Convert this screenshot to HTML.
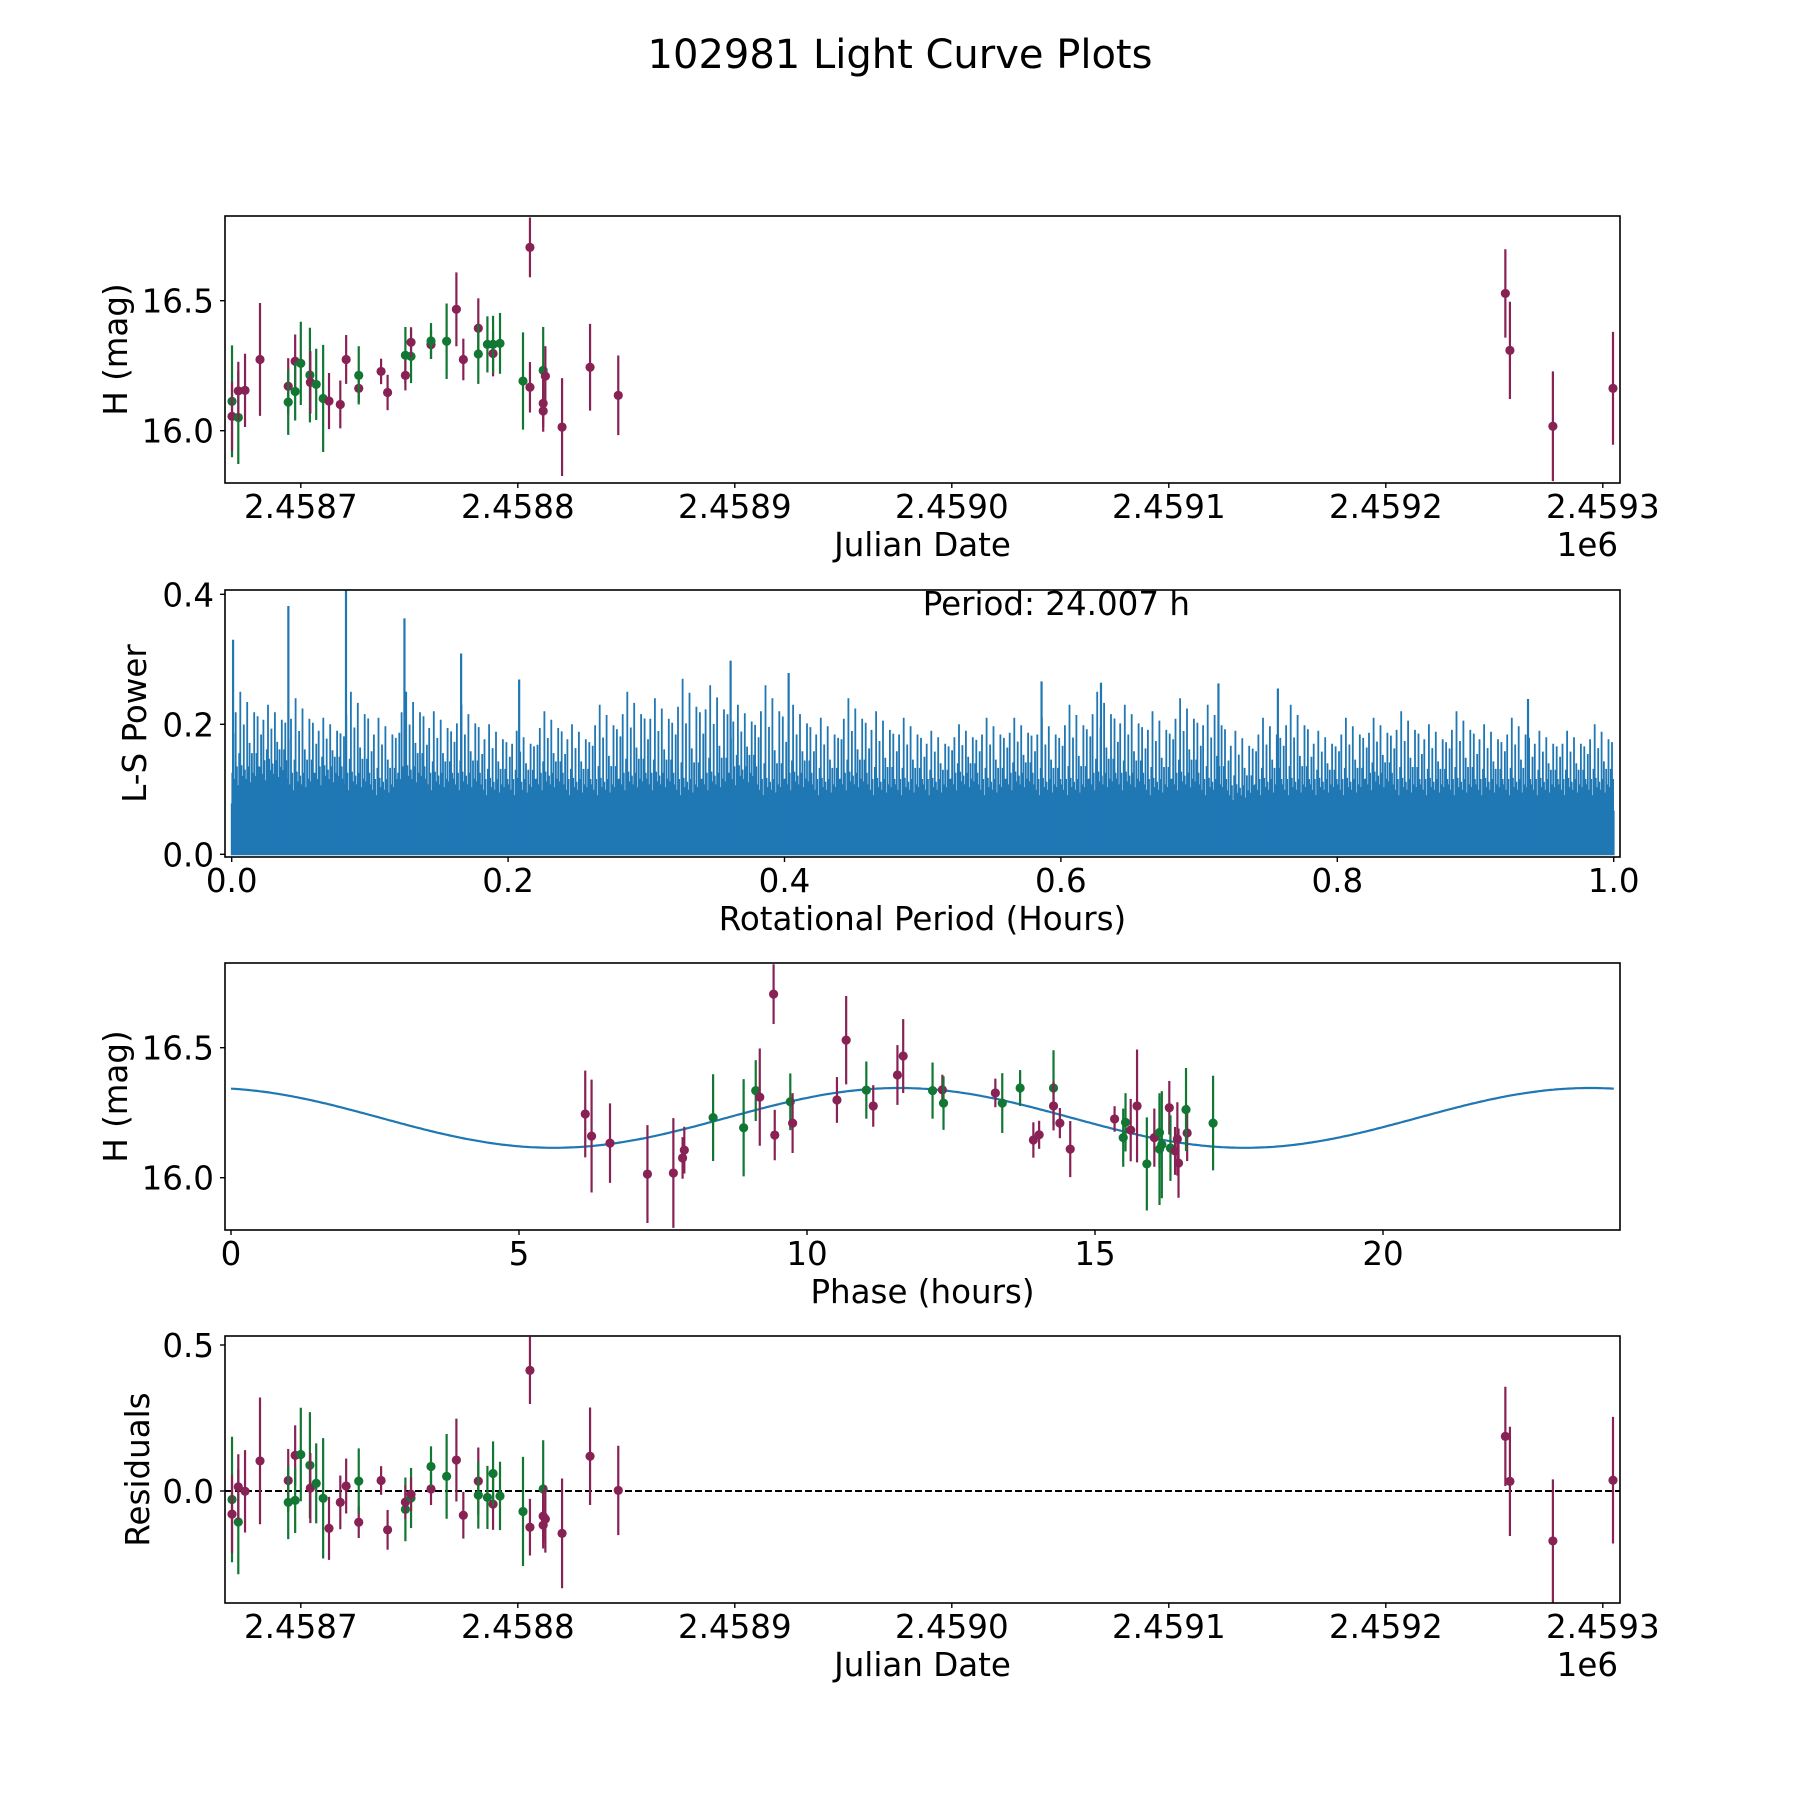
<!DOCTYPE html>
<html><head><meta charset="utf-8"><title>102981 Light Curve Plots</title>
<style>
html,body{margin:0;padding:0;background:#fff}
svg{display:block}
text{font-family:"DejaVu Sans","Liberation Sans",sans-serif;fill:#000}
</style></head>
<body>
<svg id="fig" width="1800" height="1800" viewBox="0 0 1800 1800" xmlns="http://www.w3.org/2000/svg">
<rect x="0" y="0" width="1800" height="1800" fill="#fff"/>
<text x="900" y="68" font-size="40" text-anchor="middle">102981 Light Curve Plots</text>
</svg>
<script>
// ---------- data: light curve (JD offset from 2458700, days) ----------
const jdOff = [-31.7,-31.7,-28.8,-28.8,-25.7,-18.8,-5.8,-5.8,-2.6,-2.6,0,4.2,4.4,7.1,10.3,13.0,18.2,20.9,26.7,26.7,37.0,40.0,48.2,48.2,50.8,50.8,60.0,60.0,67.2,71.7,74.9,81.8,81.8,86.0,88.6,88.6,91.8,102.4,105.6,105.6,111.7,111.7,111.7,112.7,120.4,133.3,146.3,555.1,557.2,577.0,604.7];
const mags = [16.113,16.055,16.051,16.153,16.155,16.274,16.171,16.110,16.267,16.151,16.259,16.214,16.186,16.178,16.124,16.114,16.101,16.274,16.163,16.213,16.228,16.147,16.290,16.213,16.286,16.340,16.331,16.345,16.344,16.467,16.274,16.394,16.295,16.332,16.297,16.332,16.336,16.191,16.705,16.167,16.232,16.105,16.076,16.210,16.014,16.244,16.136,16.528,16.309,16.017,16.163];
const magErr = [0.215,0.133,0.179,0.112,0.141,0.217,0.108,0.126,0.103,0.112,0.160,0.182,0.12,0.137,0.206,0.108,0.092,0.094,0.054,0.112,0.049,0.068,0.109,0.058,0.103,0.058,0.055,0.069,0.145,0.142,0.08,0.115,0.115,0.108,0.088,0.110,0.117,0.187,0.115,0.097,0.167,0.09,0.08,0.115,0.188,0.167,0.153,0.170,0.187,0.211,0.217];
const filt = ['g','m','g','m','m','m','m','g','m','g','g','g','m','g','g','m','m','m','m','g','m','m','g','m','g','m','m','g','g','m','m','m','g','g','m','g','g','g','m','m','g','m','m','m','m','m','m','m','m','m','m'];
const resid = [-0.029,-0.079,-0.106,0.014,-0.001,0.103,0.036,-0.039,0.122,-0.032,0.125,0.088,0.010,0.026,-0.025,-0.128,-0.039,0.017,-0.107,0.034,0.036,-0.133,-0.063,-0.038,-0.024,-0.011,0.007,0.084,0.050,0.106,-0.083,0.034,-0.014,-0.022,-0.045,0.060,-0.017,-0.070,0.413,-0.124,0.007,-0.086,-0.117,-0.096,-0.145,0.119,0.002,0.187,0.033,-0.171,0.037];

// ---------- data: phased curve ----------
const phase = [6.15,6.26,6.58,7.23,7.68,7.84,7.87,8.37,8.90,9.11,9.18,9.42,9.44,9.71,9.75,10.52,10.68,11.03,11.15,11.57,11.67,12.18,12.35,12.37,13.27,13.39,13.70,14.28,14.28,14.39,13.93,14.03,14.57,15.34,15.49,15.53,15.62,15.73,15.90,16.03,16.12,16.12,16.16,16.29,16.31,16.39,16.43,16.45,16.60,16.58,17.05];
const phaseMag = [16.245,16.160,16.133,16.014,16.018,16.076,16.106,16.231,16.192,16.335,16.310,16.706,16.164,16.292,16.210,16.299,16.529,16.337,16.276,16.395,16.468,16.335,16.338,16.287,16.326,16.287,16.345,16.345,16.276,16.210,16.145,16.165,16.110,16.226,16.154,16.213,16.183,16.276,16.053,16.154,16.174,16.110,16.127,16.269,16.114,16.103,16.149,16.056,16.172,16.262,16.210];
const phaseErr = [0.167,0.217,0.153,0.188,0.211,0.08,0.09,0.167,0.187,0.117,0.187,0.115,0.097,0.109,0.115,0.088,0.170,0.11,0.08,0.115,0.142,0.108,0.058,0.103,0.055,0.115,0.069,0.145,0.094,0.058,0.068,0.054,0.108,0.049,0.112,0.112,0.12,0.217,0.179,0.112,0.137,0.215,0.206,0.103,0.126,0.092,0.141,0.133,0.108,0.16,0.182];
const phaseFilt = ['m','m','m','m','m','m','m','g','g','g','m','m','m','g','m','m','m','g','m','m','m','g','m','g','m','g','g','g','m','m','m','m','m','m','g','g','m','m','g','m','g','g','g','m','g','m','m','m','m','g','g'];
// model: mean, amplitude, period (h), phase of maximum (h)
const modelMean = [16.23];
const modelAmp = [0.115];
const modelPeriod = [12.0];
const modelPeak = [11.6];

// ---------- data: periodogram ----------
const lsBinMax = [0.25,0.23,0.24,0.21,0.25,0.21,0.25,0.22,0.23,0.20,0.19,0.22,0.20,0.23,0.25,0.24,0.27,0.26,0.23,0.26,0.23,0.21,0.24,0.22,0.21,0.19,0.20,0.21,0.21,0.21,0.23,0.25,0.23,0.22,0.24,0.23,0.19,0.21,0.23,0.19,0.21,0.21,0.22,0.20,0.22,0.20,0.21,0.19,0.19,0.20];
const lsBinFill = [0.14,0.15,0.13,0.14,0.13,0.12,0.14,0.13,0.13,0.12,0.12,0.13,0.12,0.12,0.13,0.13,0.12,0.13,0.14,0.12,0.13,0.12,0.13,0.12,0.12,0.12,0.13,0.12,0.13,0.12,0.12,0.13,0.13,0.12,0.13,0.12,0.11,0.12,0.12,0.12,0.12,0.13,0.12,0.12,0.12,0.12,0.12,0.12,0.12,0.12];
const lsPeakPeriod = [0.001,0.041,0.0827,0.125,0.166,0.208,0.361,0.403,0.586,0.629,0.714,0.757,0.938];
const lsPeakPower = [0.33,0.382,0.42,0.363,0.309,0.269,0.298,0.279,0.266,0.264,0.263,0.255,0.239];

// tick labels
const jdTicks = [0,100,200,300,400,500,600];
const jdTickLabels = ['2.4587','2.4588','2.4589','2.4590','2.4591','2.4592','2.4593'];
const magTicks = [16.0,16.5];
const magTickLabels = ['16.0','16.5'];
const perTicks = [0,0.2,0.4,0.6,0.8,1.0];
const perTickLabels = ['0.0','0.2','0.4','0.6','0.8','1.0'];
const powTicks = [0,0.2,0.4];
const powTickLabels = ['0.0','0.2','0.4'];
const phTicks = [0,5,10,15,20];
const phTickLabels = ['0','5','10','15','20'];
const resTicks = [0,0.5];
const resTickLabels = ['0.0','0.5'];

// ---------- layout ----------
const NS = 'http://www.w3.org/2000/svg';
const svg = document.getElementById('fig');
const L = 225, R = 1620, H = 267;
const tops = [216, 590, 963, 1336];
const COL = {m:'#882255', g:'#117733'};
const FS = 32.5;

function lin(d0, d1, r0, r1){ return v => r0 + (v - d0) * (r1 - r0) / (d1 - d0); }
function el(tag, attrs, parent){
  const e = document.createElementNS(NS, tag);
  for (const k in attrs) e.setAttribute(k, attrs[k]);
  (parent || svg).appendChild(e);
  return e;
}

function axesFrame(i, name){
  const g = el('g', {});
  
  
  const cp = el('clipPath', {id:'clip'+i}, g);
  el('rect', {x:L, y:tops[i], width:R-L, height:H}, cp);
  const plot = el('g', {'clip-path':'url(#clip'+i+')'}, g);
  
  
  return {g, plot};
}
function frame(g, i){
  const f = el('rect', {x:L, y:tops[i], width:R-L, height:H, fill:'none', stroke:'#000', 'stroke-width':1.6}, g);
  
  
}
function xTicks(g, i, ticks, labels, sx){
  const b = tops[i] + H;
  ticks.forEach((t, k) => {
    const x = sx(t);
    const tk = el('line', {x1:x, x2:x, y1:b, y2:b+5, stroke:'#000', 'stroke-width':1.4}, g);
    
    
    const tx = el('text', {x:x, y:b+35, 'font-size':FS, 'text-anchor':'middle'}, g);
    tx.textContent = labels[k];
    
    
  });
}
function yTicks(g, i, ticks, labels, sy){
  ticks.forEach((t, k) => {
    const y = sy(t);
    const tk = el('line', {x1:L-5, x2:L, y1:y, y2:y, stroke:'#000', 'stroke-width':1.4}, g);
    
    
    const tx = el('text', {x:L-11, y:y+12, 'font-size':FS, 'text-anchor':'end'}, g);
    tx.textContent = labels[k];
    
    
  });
}
function xLabel(g, i, txt){
  const t = el('text', {x:(L+R)/2, y:tops[i]+H+73, 'font-size':FS, 'text-anchor':'middle'}, g);
  t.textContent = txt;
  
  
}
function yLabel(g, i, txt, bx){
  const yc = tops[i] + H/2;
  const t = el('text', {x:bx, y:yc, 'font-size':FS, 'text-anchor':'middle', transform:'rotate(-90 '+bx+' '+yc+')'}, g);
  t.textContent = txt;
  
  
}
function errPoint(plot, x, y, ylo, yhi, c){
  const ln = el('line', {x1:x, x2:x, y1:ylo, y2:yhi, stroke:c, 'stroke-width':2.2}, plot);
  
  
  const dot = el('circle', {cx:x, cy:y, r:4.6, fill:c}, plot);
  
  
}

// ---------- panel 1: light curve ----------
(function(){
  const i = 0;
  const {g, plot} = axesFrame(i, 'light-curve-panel');
  const sx = lin(0, 100, 300.8, 517.8);
  const sy = lin(16.0, 16.5, tops[i]+214.7, tops[i]+84.7);
  jdOff.forEach((d, k) => {
    errPoint(plot, sx(d), sy(mags[k]), sy(mags[k]-magErr[k]), sy(mags[k]+magErr[k]), COL[filt[k]]);
  });
  frame(g, i);
  xTicks(g, i, jdTicks, jdTickLabels, sx);
  yTicks(g, i, magTicks, magTickLabels, sy);
  xLabel(g, i, 'Julian Date');
  yLabel(g, i, 'H (mag)', 127);
  const off = el('text', {x:1618, y:tops[i]+H+73, 'font-size':FS, 'text-anchor':'end'}, g);
  off.textContent = '1e6';
  
  
})();

// ---------- panel 2: periodogram ----------
(function(){
  const i = 1;
  const {g, plot} = axesFrame(i, 'periodogram-panel');
  const sx = lin(0, 1, 231.7, 1613.7);
  const sy = lin(0, 0.4, tops[i]+264.3, tops[i]+4.3);
  const pattern = [.5,.8,.4,.9,.6,.3,.7,1,.62,.45,.84,.55,.4,.95,.6,.75,.35,.7,.5,.9,.45,.7,.88,.6];
  const nb = lsBinMax.length;
  let d = '';
  for (let b = 0; b < nb; b++){
    const base = lsBinFill[b] * 0.55;
    const x0 = sx(b/nb), x1 = sx((b+1)/nb);
    d += 'M'+x0.toFixed(1)+' '+sy(0).toFixed(1)+'V'+sy(base).toFixed(1)+'H'+x1.toFixed(1)+'V'+sy(0).toFixed(1)+'Z';
    for (let k = 0; k < pattern.length; k++){
      const x = x0 + (k + 0.5) * (x1 - x0) / pattern.length;
      const p = pattern[k];
      const h = p < 0.65 ? base + (lsBinFill[b] - base) * (p/0.65) : lsBinFill[b] + (lsBinMax[b] - lsBinFill[b]) * ((p-0.65)/0.35);
      d += 'M'+x.toFixed(1)+' '+sy(0).toFixed(1)+'V'+sy(h).toFixed(1);
    }
  }
  const spikes = el('path', {d:d, fill:'#1f77b4', stroke:'#1f77b4', 'stroke-width':1.8}, plot);
  
  
  lsPeakPeriod.forEach((p, k) => {
    const pk = el('line', {x1:sx(p), x2:sx(p), y1:sy(0), y2:sy(lsPeakPower[k]), stroke:'#1f77b4', 'stroke-width':2.2}, plot);
    
    
  });
  frame(g, i);
  xTicks(g, i, perTicks, perTickLabels, sx);
  yTicks(g, i, powTicks, powTickLabels, sy);
  xLabel(g, i, 'Rotational Period (Hours)');
  yLabel(g, i, 'L-S Power', 146);
  const pt = el('text', {x:sx(0.5), y:615, 'font-size':FS, 'text-anchor':'start'}, g);
  pt.textContent = 'Period: 24.007 h';
  
  
})();

// ---------- panel 3: phased curve ----------
(function(){
  const i = 2;
  const {g, plot} = axesFrame(i, 'phase-panel');
  const sx = lin(0, 5, 231, 519);
  const sy = lin(16.0, 16.5, tops[i]+214.7, tops[i]+84.7);
  let d = '';
  for (let k = 0; k <= 480; k++){
    const t = 24.007 * k / 480;
    const v = modelMean[0] + modelAmp[0] * Math.cos(2*Math.PI*(t - modelPeak[0]) / modelPeriod[0]);
    d += (k ? 'L' : 'M') + sx(t).toFixed(1) + ' ' + sy(v).toFixed(1);
  }
  const curve = el('path', {d:d, fill:'none', stroke:'#1f77b4', 'stroke-width':2.2}, plot);
  
  
  phase.forEach((p, k) => {
    errPoint(plot, sx(p), sy(phaseMag[k]), sy(phaseMag[k]-phaseErr[k]), sy(phaseMag[k]+phaseErr[k]), COL[phaseFilt[k]]);
  });
  frame(g, i);
  xTicks(g, i, phTicks, phTickLabels, sx);
  yTicks(g, i, magTicks, magTickLabels, sy);
  xLabel(g, i, 'Phase (hours)');
  yLabel(g, i, 'H (mag)', 127);
})();

// ---------- panel 4: residuals ----------
(function(){
  const i = 3;
  const {g, plot} = axesFrame(i, 'residuals-panel');
  const sx = lin(0, 100, 300.8, 517.8);
  const sy = lin(0, 0.5, tops[i]+155, tops[i]+9);
  const zl = el('line', {x1:L, x2:R, y1:sy(0), y2:sy(0), stroke:'#000', 'stroke-width':2, 'stroke-dasharray':'7,3'}, plot);
  
  
  jdOff.forEach((d, k) => {
    errPoint(plot, sx(d), sy(resid[k]), sy(resid[k]-magErr[k]), sy(resid[k]+magErr[k]), COL[filt[k]]);
  });
  frame(g, i);
  xTicks(g, i, jdTicks, jdTickLabels, sx);
  yTicks(g, i, resTicks, resTickLabels, sy);
  xLabel(g, i, 'Julian Date');
  yLabel(g, i, 'Residuals', 149);
  const off = el('text', {x:1618, y:tops[i]+H+73, 'font-size':FS, 'text-anchor':'end'}, g);
  off.textContent = '1e6';
  
  
})();
</script>
</body></html>
